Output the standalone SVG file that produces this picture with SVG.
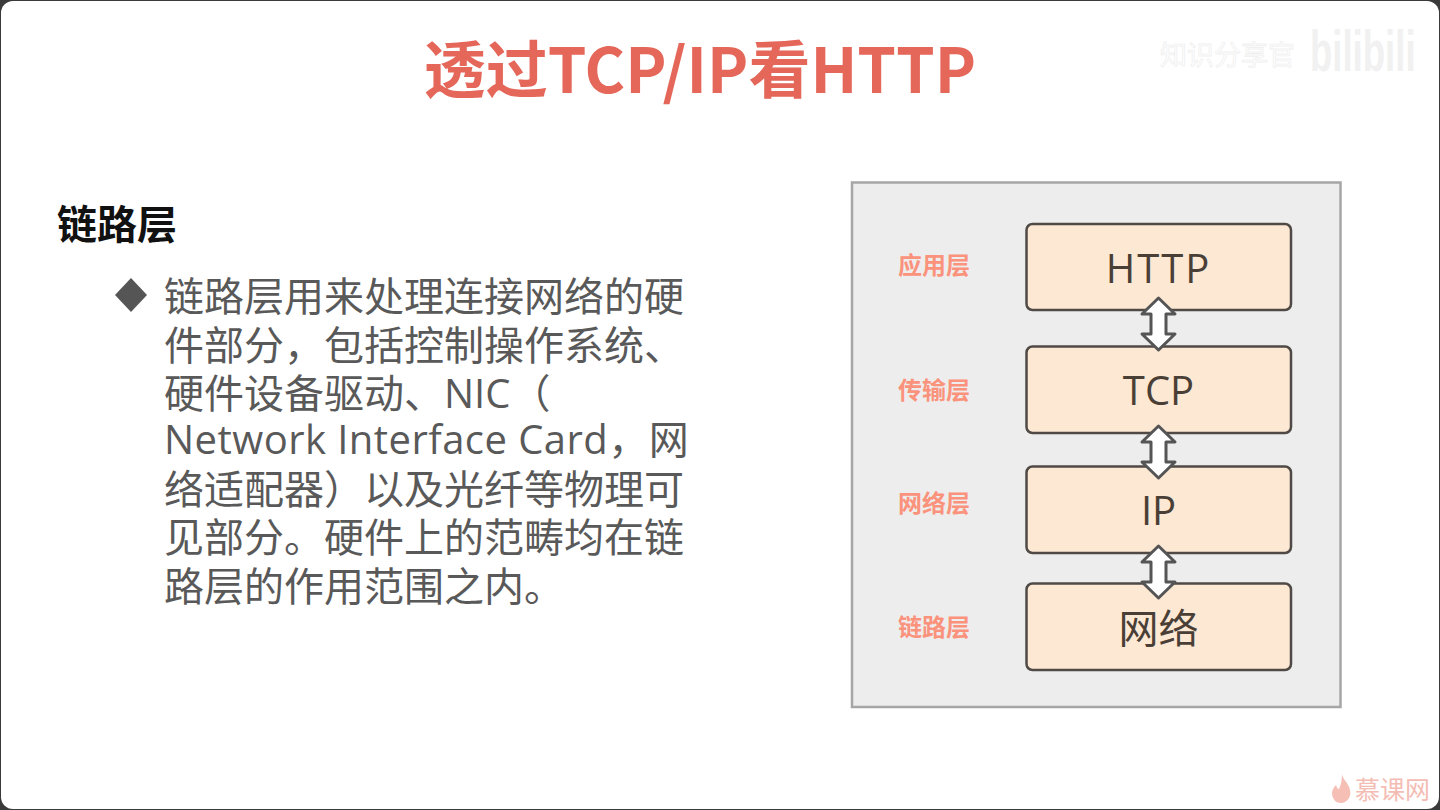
<svg xmlns="http://www.w3.org/2000/svg" width="1440" height="810" viewBox="0 0 1440 810">
<style>
.cjk{font-family:"Noto Sans CJK SC","Noto Sans",sans-serif}
.body{font-size:40px;fill:#595959;font-family:"Open Sans","Noto Sans CJK SC",sans-serif}
.lay{font-size:24px;font-weight:700;fill:#fb927c;font-family:"Noto Sans CJK SC",sans-serif;text-anchor:middle}
.box{fill:#fde8d4;stroke:#4f4a45;stroke-width:2.500}
.lbl{font-size:40px;fill:#4a3f36;font-family:"Open Sans","Noto Sans CJK SC",sans-serif;text-anchor:middle}
.arr{fill:#fff;stroke:#555;stroke-width:3;stroke-linejoin:round}
</style>
<rect width="1440" height="810" fill="#3a3a3a"/>
<rect x="1" y="1" width="1438" height="808" rx="12" fill="#fff"/>
<text class="cjk" x="700" y="93" font-size="62" font-weight="700" fill="#e5675a" text-anchor="middle">透过TCP/IP看HTTP</text>
<g id="watermark">
<text class="cjk" x="1160" y="65" font-size="27" fill="#fff" stroke="#f0f0f0" stroke-width=".8">知识分享官</text>
<text transform="translate(1310,71) scale(.63,1)" font-family="'Liberation Sans',sans-serif" font-size="58" font-weight="700" fill="#f1f1f1">bilibili</text>
</g>
<text class="cjk" x="57" y="239" font-size="40" font-weight="700" fill="#111">链路层</text>
<polygon points="131,278 147,295 131,312 115,295" fill="#555"/>
<text class="body" x="164" y="311">链路层用来处理连接网络的硬</text>
<text class="body" x="164" y="360">件部分，包括控制操作系统、</text>
<text class="body" x="164" y="408">硬件设备驱动、NIC（</text>
<text class="body" x="164" y="454" letter-spacing=".45">Network Interface Card，网</text>
<text class="body" x="164" y="504">络适配器）以及光纤等物理可</text>
<text class="body" x="164" y="552">见部分。硬件上的范畴均在链</text>
<text class="body" x="164" y="601">路层的作用范围之内。</text>
<rect id="panel" x="852" y="182.500" width="488.500" height="524.500" fill="#ededed" stroke="#a6a6a6" stroke-width="2.500"/>
<g id="n-http"><rect class="box" x="1026.500" y="224" width="264.500" height="86" rx="6"/><text class="lbl" x="1158.500" y="283" letter-spacing="2">HTTP</text></g>
<g id="n-tcp"><rect class="box" x="1026.500" y="346.500" width="264.500" height="86.500" rx="6"/><text class="lbl" x="1158.500" y="405">TCP</text></g>
<g id="n-ip"><rect class="box" x="1026.500" y="466.500" width="264.500" height="86.500" rx="6"/><text class="lbl" x="1158.500" y="525">IP</text></g>
<g id="n-net"><rect class="box" x="1026.500" y="583.500" width="264.500" height="86.500" rx="6"/><text class="lbl" x="1158.500" y="643">网络</text></g>
<g id="layer-labels">
<text class="lay" x="934" y="274">应用层</text>
<text class="lay" x="934" y="399">传输层</text>
<text class="lay" x="934" y="512">网络层</text>
<text class="lay" x="934" y="636">链路层</text>
</g>
<g id="connectors">
<path class="arr" d="M1158.500 298L1175 314H1166V334H1175L1158.500 350L1142 334H1151V314H1142Z"/>
<path class="arr" d="M1158.500 426L1175 442H1166V462H1175L1158.500 478L1142 462H1151V442H1142Z"/>
<path class="arr" d="M1158.500 546L1175 562H1166V582H1175L1158.500 598L1142 582H1151V562H1142Z"/>
</g>
<g id="logo">
<path d="M1342 774C1343 779 1346 781 1348 785C1351 790 1351 795 1349 798C1347 802 1343 803 1341 803C1335 803 1332 798 1332 793C1332 790 1334 787 1336 785C1337 788 1338 789 1339 789C1341 785 1342 780 1342 774Z" fill="#f6bfb6"/>
<text class="cjk" x="1355" y="799" font-size="25" fill="#f4bdb4">慕课网</text>
</g>
</svg>
